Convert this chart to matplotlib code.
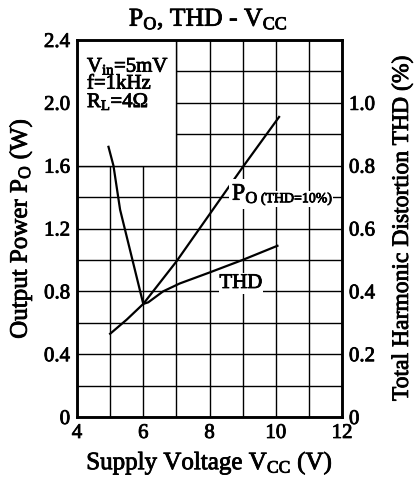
import matplotlib.pyplot as plt
import matplotlib.patheffects as pe
from matplotlib.patches import Rectangle

plt.rcParams['font.family'] = 'Liberation Serif'
plt.rcParams['mathtext.fontset'] = 'custom'
plt.rcParams['mathtext.rm'] = 'Liberation Serif'
plt.rcParams['mathtext.it'] = 'Liberation Serif'

# Po at THD=10% (W)
vcc_po = [5.0, 5.5, 6.0, 7.0, 8.0, 9.0, 10.1]
po = [0.53, 0.62, 0.72, 0.99, 1.29, 1.59, 1.91]

# THD (%)
vcc_thd = [4.95, 5.1, 5.3, 6.0, 6.15, 6.6, 7.1, 8.0, 9.0, 10.05]
thd = [0.86, 0.80, 0.66, 0.36, 0.365, 0.40, 0.425, 0.46, 0.50, 0.545]

x_ticks = [4, 6, 8, 10, 12]
y_left_ticks = [0, 0.4, 0.8, 1.2, 1.6, 2.0, 2.4]
y_left_labels = ["0", "0.4", "0.8", "1.2", "1.6", "2.0", "2.4"]
y_right_ticks = [0, 0.2, 0.4, 0.6, 0.8, 1.0]
y_right_labels = ["0", "0.2", "0.4", "0.6", "0.8", "1.0"]

heavy = [pe.withStroke(linewidth=0.6, foreground='black')]

fig = plt.figure(figsize=(4.17, 4.79), dpi=100)
ax = fig.add_axes([0.1847, 0.1294, 0.6355, 0.7871])
ax.set_xlim(4, 12)
ax.set_ylim(0, 2.4)
ax.set_xticks(x_ticks)
ax.set_xticks([5, 7, 9, 11], minor=True)
ax.set_yticks(y_left_ticks)
ax.set_yticklabels(y_left_labels)
ax.set_yticks([0.2, 0.6, 1.0, 1.4, 1.8, 2.2], minor=True)
ax.grid(True, which='both', color='black', linewidth=1.0)
ax.tick_params(which='both', length=0, labelsize=15, pad=5)
for s in ax.spines.values():
    s.set_linewidth(1.8)

# box for conditions, hides grid
ax.add_patch(Rectangle((4, 1.6), 3, 0.8, facecolor='white', edgecolor='black',
                       linewidth=1.0, zorder=2.5))
ax.text(4.3, 2.12, "V$_{\\mathrm{in}}$=5mV\nf=1kHz\nR$_{\\mathrm{L}}$=4$\\Omega$",
        fontsize=15, va='center', ha='left', linespacing=0.85, zorder=3,
        path_effects=heavy)

ax.plot(vcc_po, po, color='black', linewidth=1.6, zorder=4)

ax2 = ax.twinx()
ax2.set_ylim(0, 1.2)
ax2.set_yticks(y_right_ticks)
ax2.set_yticklabels(y_right_labels)
ax2.tick_params(length=0, labelsize=15, pad=5)
for s in ax2.spines.values():
    s.set_linewidth(1.8)
ax2.plot(vcc_thd, thd, color='black', linewidth=1.6)

ax2.text(8.68, 0.71, "P$_{\\mathrm{O}}$", fontsize=17, va='center', ha='left',
         bbox=dict(facecolor='white', edgecolor='none', pad=2.5), path_effects=heavy)
ax2.text(9.55, 0.695, "(THD=10%)", fontsize=10, va='center', ha='left',
         bbox=dict(facecolor='white', edgecolor='none', pad=1.0), path_effects=heavy)
ax2.text(8.3, 0.425, "THD", fontsize=15, va='center', ha='left',
         bbox=dict(facecolor='white', edgecolor='none', pad=0.5), path_effects=heavy)

ax.set_xticklabels([str(t) for t in x_ticks])
ax.set_xlabel("Supply Voltage V$_{\\mathrm{CC}}$ (V)", fontsize=18, labelpad=5,
              path_effects=heavy)
ax.set_ylabel("Output Power P$_{\\mathrm{O}}$ (W)", fontsize=18, labelpad=7,
              path_effects=heavy)
ax2.set_ylabel("Total Harmonic Distortion THD (%)", fontsize=17, labelpad=12,
               path_effects=heavy)
fig.suptitle("P$_{\\mathrm{O}}$, THD - V$_{\\mathrm{CC}}$", fontsize=18.5, y=0.985,
             path_effects=heavy)

for lbl in ax.get_xticklabels() + ax.get_yticklabels() + ax2.get_yticklabels():
    lbl.set_path_effects(heavy)

plt.savefig("out.png", dpi=100)
